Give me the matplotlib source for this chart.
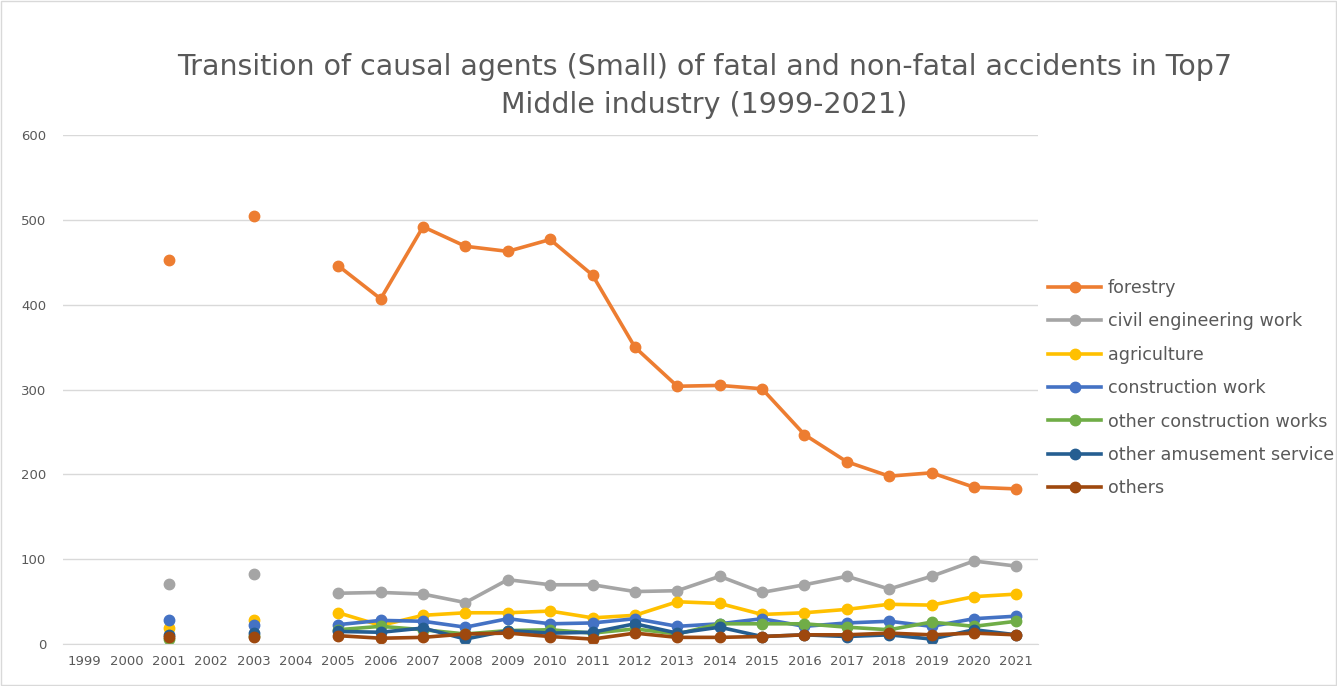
import numpy as np
import matplotlib
matplotlib.use("Agg")
import matplotlib.pyplot as plt
from matplotlib.patches import Rectangle

nan = np.nan
years = [str(y) for y in range(1999, 2022)]

forestry = [nan, nan, 453, nan, 505, nan, 446, 407, 492, 469, 463, 477, 435,
            350, 304, 305, 301, 247, 215, 198, 202, 185, 183]
civil_eng = [nan, nan, 71, nan, 83, nan, 60, 61, 59, 49, 76, 70, 70,
             62, 63, 80, 61, 70, 80, 65, 80, 98, 92]
agriculture = [nan, nan, 19, nan, 28, nan, 37, 22, 34, 37, 37, 39, 31,
               34, 50, 48, 35, 37, 41, 47, 46, 56, 59]
construction = [nan, nan, 28, nan, 23, nan, 23, 28, 27, 20, 30, 24, 25,
                30, 21, 24, 30, 21, 25, 27, 21, 30, 33]
other_constr = [nan, nan, 6, nan, 10, nan, 17, 21, 17, 12, 16, 17, 13,
                18, 12, 24, 24, 24, 20, 17, 26, 21, 27]
amusement = [nan, nan, 11, nan, 13, nan, 15, 14, 19, 6, 16, 13, 14,
             24, 13, 20, 9, 11, 9, 11, 6, 17, 11]
others = [nan, nan, 9, nan, 9, nan, 10, 7, 8, 12, 13, 9, 6,
          13, 8, 8, 9, 11, 11, 13, 11, 13, 11]

labels = ["forestry", "civil engineering work", "agriculture", "construction work",
          "other construction works", "other amusement service", "others"]
colors = ["#ED7D31", "#A5A5A5", "#FFC000", "#4472C4", "#70AD47", "#255E91", "#9E480E"]
series = [forestry, civil_eng, agriculture, construction, other_constr, amusement, others]

fig = plt.figure(figsize=(13.37, 6.86), dpi=100)
fig.patches.append(Rectangle((0.001, 0.001), 0.998, 0.997, transform=fig.transFigure,
                             fill=False, edgecolor="#D9D9D9", linewidth=1))
ax = fig.add_axes([0.047, 0.061, 0.729, 0.742])

x = np.arange(len(years))
for vals, lab, c in zip(series, labels, colors):
    ax.plot(x, vals, color=c, linewidth=2.6, marker="o", markersize=7.5, label=lab)

ax.set_xlim(-0.5, len(years) - 0.5)
ax.set_ylim(0, 600)
ax.set_yticks(range(0, 601, 100))
ax.set_xticks(x)
ax.set_xticklabels(years)
ax.tick_params(length=0, labelsize=9.5, colors="#595959", pad=8)
ax.tick_params(axis="y", pad=12)
ax.grid(axis="y", color="#D9D9D9", linewidth=1)
ax.set_axisbelow(True)
for s in ["top", "right", "left"]:
    ax.spines[s].set_visible(False)
ax.spines["bottom"].set_color("#D9D9D9")

fig.text(0.527, 0.875, "Transition of causal agents (Small) of fatal and non-fatal accidents in Top7\nMiddle industry (1999-2021)",
         ha="center", va="center", fontsize=20.5, color="#595959", linespacing=1.45)

leg = ax.legend(loc="center left", bbox_to_anchor=(0.995, 0.503), frameon=False,
                fontsize=12.6, labelcolor="#595959", handlelength=3.0,
                labelspacing=0.88, handletextpad=0.4)

fig.savefig("out.png", dpi=100)
